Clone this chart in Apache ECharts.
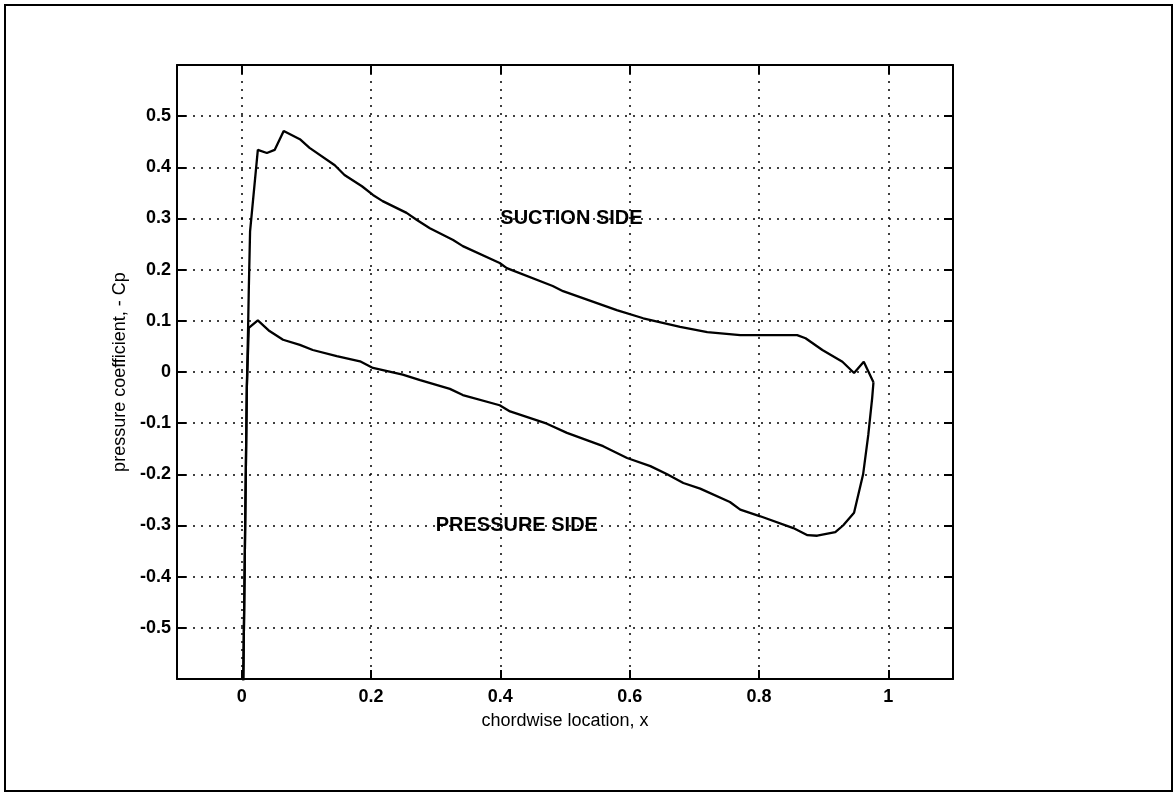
<!DOCTYPE html>
<html>
<head>
<meta charset="utf-8">
<title>pressure coefficient</title>
<script src="https://cdn.jsdelivr.net/npm/echarts@6/dist/echarts.min.js"></script>
<style>
  html, body { margin: 0; padding: 0; background: #fff; }
  #main { width: 1176px; height: 795px; }
</style>
</head>
<body>
<div id="main"></div>
<script>
// suction side, leading edge -> trailing edge  [x, -Cp]
var suctionSide = [
  [0.001, -0.75], [0.004, -0.45], [0.008, -0.03], [0.010, 0.09], [0.011, 0.16],
  [0.013, 0.275], [0.025, 0.434], [0.039, 0.428], [0.051, 0.434], [0.065, 0.471],
  [0.090, 0.455], [0.105, 0.438], [0.144, 0.404], [0.159, 0.385], [0.186, 0.363],
  [0.203, 0.346], [0.218, 0.334], [0.255, 0.311], [0.271, 0.297], [0.291, 0.281],
  [0.327, 0.258], [0.342, 0.246], [0.399, 0.213], [0.410, 0.203], [0.481, 0.168],
  [0.497, 0.158], [0.580, 0.121], [0.621, 0.105], [0.678, 0.088], [0.720, 0.078],
  [0.771, 0.072], [0.859, 0.072], [0.872, 0.066], [0.898, 0.043], [0.929, 0.020],
  [0.947, -0.002], [0.962, 0.020], [0.977, -0.020]
];

// pressure side, trailing edge -> leading edge
var pressureSide = [
  [0.977, -0.020], [0.975, -0.051], [0.969, -0.123], [0.961, -0.200], [0.947, -0.275],
  [0.930, -0.300], [0.918, -0.313], [0.890, -0.320], [0.875, -0.319], [0.853, -0.305],
  [0.802, -0.282], [0.771, -0.269], [0.755, -0.254], [0.709, -0.228], [0.683, -0.217],
  [0.658, -0.200], [0.632, -0.184], [0.596, -0.168], [0.559, -0.145], [0.503, -0.119],
  [0.472, -0.101], [0.415, -0.077], [0.399, -0.065], [0.342, -0.045], [0.322, -0.033],
  [0.276, -0.016], [0.249, -0.005], [0.203, 0.008], [0.183, 0.021], [0.147, 0.031],
  [0.110, 0.043], [0.090, 0.053], [0.064, 0.063], [0.043, 0.080], [0.025, 0.101],
  [0.011, 0.086], [0.008, -0.03], [0.004, -0.45], [0.001, -0.75]
];

var xTicks = [0, 0.2, 0.4, 0.6, 0.8, 1];
var yTicks = [-0.5, -0.4, -0.3, -0.2, -0.1, 0, 0.1, 0.2, 0.3, 0.4, 0.5];

var noteText = ["SUCTION SIDE", "PRESSURE SIDE"];
var noteX = [0.4, 0.3];
var noteY = [0.3, -0.3];

var xMin = -0.1, xMax = 1.1;
var yMin = -0.6, yMax = 0.6;

var font = "'Liberation Sans', Arial, Helvetica, sans-serif";

var myChart = echarts.init(document.getElementById("main"));

var gridLine = { show: true, lineStyle: { color: "#000", width: 1.5, type: [2, 6] } };
var frameLine = { show: true, onZero: false, lineStyle: { color: "#000", width: 2 } };
function tick(vals) {
  return { show: true, inside: true, length: 9, customValues: vals,
    lineStyle: { color: "#000", width: 2 } };
}

var notes = noteText.map(function(t, i) {
  return { name: t, value: [noteX[i], noteY[i]] };
});

var option = {
  backgroundColor: "#fff",
  animation: false,
  textStyle: { fontFamily: font },
  grid: { left: 177, right: 223, top: 65, bottom: 116 },
  graphic: [{
    type: "rect",
    shape: { x: 5, y: 5, width: 1167, height: 786 },
    style: { fill: null, stroke: "#000", lineWidth: 2 },
    silent: true
  }],
  xAxis: [{
    type: "value", min: xMin, max: xMax,
    position: "bottom",
    name: "chordwise location, x", nameLocation: "middle", nameGap: 33,
    nameTextStyle: { color: "#000", fontSize: 18, fontFamily: font },
    axisLine: frameLine, axisTick: tick(xTicks), splitLine: gridLine,
    axisLabel: { color: "#000", fontSize: 18, fontWeight: "bold", fontFamily: font,
      margin: 9, customValues: xTicks }
  }, {
    type: "value", min: xMin, max: xMax,
    position: "top",
    axisLine: frameLine, axisTick: tick(xTicks), splitLine: { show: false },
    axisLabel: { show: false }
  }],
  yAxis: [{
    type: "value", min: yMin, max: yMax,
    position: "left",
    name: "pressure coefficient, - Cp", nameLocation: "middle", nameGap: 43,
    nameTextStyle: { color: "#000", fontSize: 18, fontFamily: font },
    axisLine: frameLine, axisTick: tick(yTicks), splitLine: gridLine,
    axisLabel: { color: "#000", fontSize: 18, fontWeight: "bold", fontFamily: font,
      margin: 6, customValues: yTicks }
  }, {
    type: "value", min: yMin, max: yMax,
    position: "right",
    axisLine: frameLine, axisTick: tick(yTicks), splitLine: { show: false },
    axisLabel: { show: false }
  }],
  series: [{
    name: "suction side", type: "line", data: suctionSide,
    showSymbol: false, clip: true,
    lineStyle: { color: "#000", width: 2.3 }
  }, {
    name: "pressure side", type: "line", data: pressureSide,
    showSymbol: false, clip: true,
    lineStyle: { color: "#000", width: 2.3 }
  }, {
    name: "notes", type: "scatter", data: notes,
    symbolSize: 0, silent: true, z: 5,
    itemStyle: { opacity: 1 },
    label: {
      show: true, position: "right", distance: 0,
      formatter: "{b}", color: "#000", opacity: 1, fontSize: 20, fontWeight: "bold",
      fontFamily: font
    }
  }]
};

myChart.setOption(option);
</script>
</body>
</html>
